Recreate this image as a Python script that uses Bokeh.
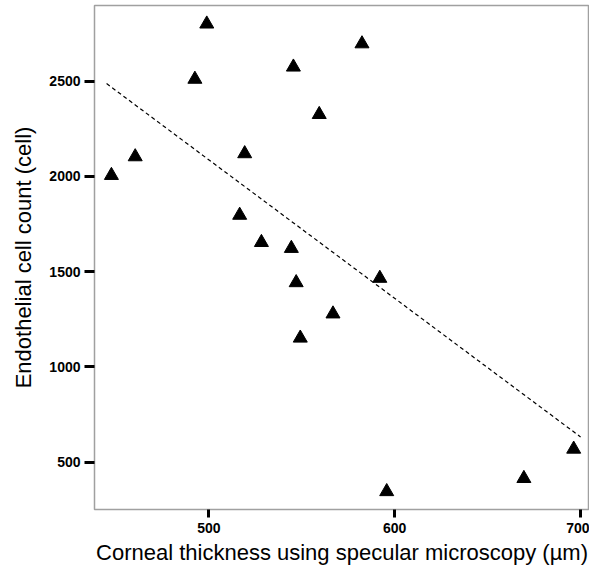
from bokeh.plotting import figure
from bokeh.models import Range1d, FixedTicker
from bokeh.embed import file_html
from bokeh.resources import INLINE

# Data
thickness = [447.6, 460.4, 492.5, 498.9, 519.3, 516.6, 528.3, 545.5, 559.4,
             582.4, 544.4, 547.0, 549.2, 566.8, 592.0, 595.7, 669.5, 696.3]
cell_count = [2005, 2103, 2510, 2800, 2119, 1796, 1653, 2574, 2325,
              2696, 1622, 1442, 1151, 1278, 1465, 345, 414, 568]
fit_x = [445, 700]
fit_y = [2487, 632]
x_ticks = [500, 600, 700]
y_ticks = [500, 1000, 1500, 2000, 2500]

p = figure(width=589, height=567, output_backend="svg", toolbar_location=None,
           x_range=Range1d(438.5, 704.8), y_range=Range1d(251, 2897),
           min_border_left=94, min_border_right=0, min_border_top=5,
           min_border_bottom=40)

p.line(fit_x, fit_y, line_color="black", line_width=1.2, line_dash="4 3")
p.scatter(thickness, cell_count, marker="triangle", size=14,
          fill_color="black", line_color="black")

p.grid.visible = False
p.outline_line_color = "#a0a0a0"
p.outline_line_width = 1.5
p.background_fill_color = "white"
p.border_fill_color = "white"

p.xaxis.ticker = FixedTicker(ticks=x_ticks)
p.yaxis.ticker = FixedTicker(ticks=y_ticks)
for ax in (p.xaxis[0], p.yaxis[0]):
    ax.axis_line_color = None
    ax.minor_tick_line_color = None
    ax.major_tick_line_color = "black"
    ax.major_tick_line_width = 3
    ax.major_tick_in = 0
    ax.major_label_text_font = "Liberation Sans"
    ax.major_label_text_font_style = "bold"
    ax.major_label_text_font_size = "14px"
    ax.major_label_text_color = "black"
    ax.axis_label_text_font = "Liberation Sans"
    ax.axis_label_text_font_style = "normal"
    ax.axis_label_text_font_size = "22px"
    ax.axis_label_text_color = "black"

p.xaxis.major_tick_out = 8
p.yaxis.major_tick_out = 10
p.xaxis.major_label_standoff = 5
p.yaxis.major_label_standoff = 4
p.xaxis.axis_label = "Corneal thickness using specular microscopy (µm)"
p.yaxis.axis_label = "Endothelial cell count (cell)"
p.xaxis.axis_label_standoff = 4
p.yaxis.axis_label_standoff = 10

open("out.html", "w").write(file_html(p, INLINE))
